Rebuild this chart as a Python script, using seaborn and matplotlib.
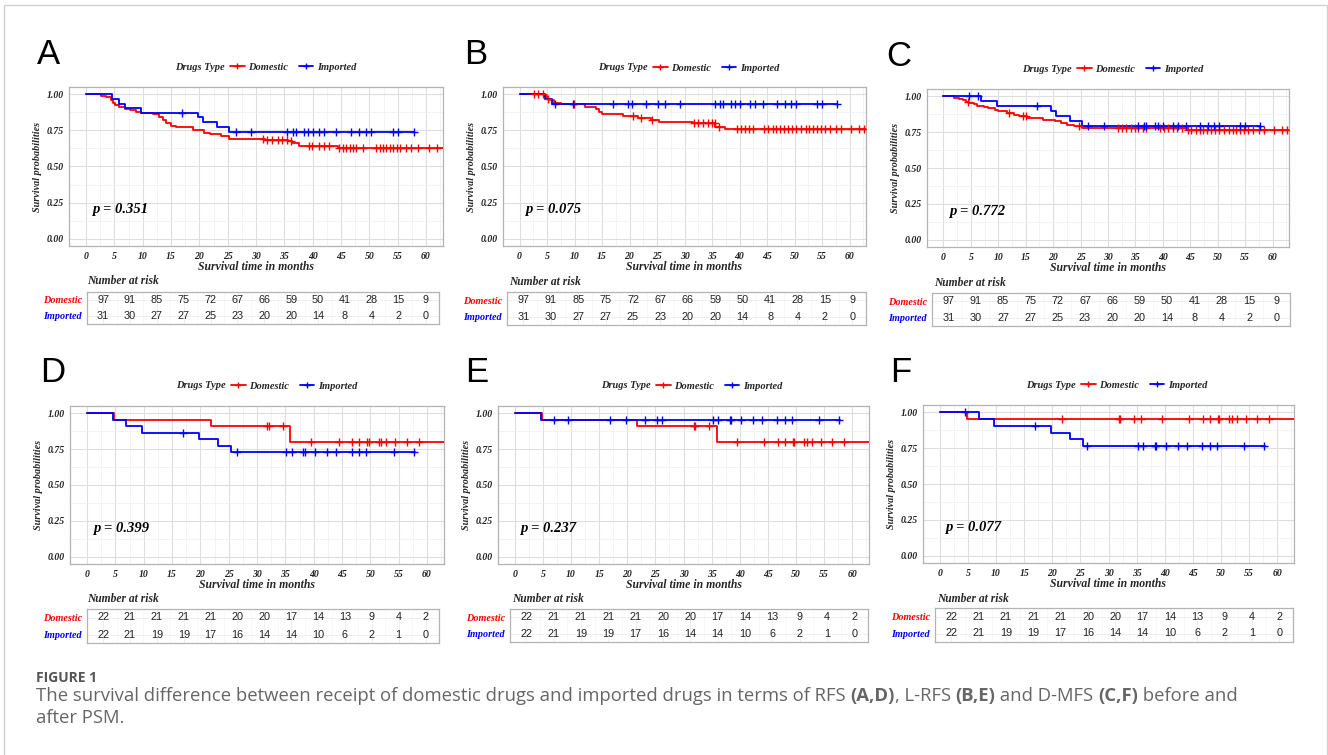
import numpy as np
import pandas as pd
import matplotlib
matplotlib.use('Agg')
import matplotlib.pyplot as plt
import seaborn as sns
from matplotlib.font_manager import FontProperties
from matplotlib.lines import Line2D
from matplotlib.patches import Rectangle

# ---------------- data ----------------
groups = ['Domestic', 'Imported']
risk_times = list(range(0, 61, 5))
y_breaks = [0.0, 0.25, 0.50, 0.75, 1.00]

# Panel A (RFS, before PSM)
A_dom_t = [0, 2.7, 3.5, 4.4, 4.8, 5.2, 5.9, 6.8, 7.8, 8.8, 9.7, 11.8, 12.9, 13.5, 14.1, 15.0, 15.9,
           18.8, 20.3, 20.9, 21.8, 23.8, 25.3, 31.5, 35.6, 36.3, 37.5, 44.4]
A_dom_s = [1.0, 0.99, 0.98, 0.96, 0.94, 0.925, 0.91, 0.90, 0.89, 0.88, 0.87, 0.86, 0.84, 0.82, 0.80,
           0.78, 0.77, 0.755, 0.75, 0.735, 0.725, 0.71, 0.69, 0.685, 0.675, 0.66, 0.645, 0.63]
A_dom_c = [31.2, 32.0, 32.9, 33.8, 34.6, 35.4, 36.2, 39.4, 39.9, 41.2, 42.0, 42.8, 44.7, 45.3, 45.9,
           46.5, 47.1, 47.7, 48.8, 51.2, 51.8, 52.4, 53.0, 53.6, 54.2, 54.8, 55.4, 56.5, 57.4, 58.5,
           60.6, 62.0]
A_imp_t = [0, 4.6, 5.9, 6.8, 9.7, 19.7, 20.6, 23.1, 25.2]
A_imp_s = [1.0, 0.968, 0.935, 0.903, 0.871, 0.839, 0.806, 0.774, 0.742]
A_imp_c = [17.0, 26.4, 29.2, 35.5, 36.5, 37.0, 38.5, 39.2, 40.0, 41.2, 42.0, 44.2, 46.8, 48.2, 49.4,
           50.3, 54.1, 55.0, 57.8]

# Panel B (L-RFS, before PSM)
B_dom_t = [0, 4.5, 5.0, 5.6, 6.2, 7.5, 11.9, 13.9, 14.5, 15.0, 18.9, 21.5, 23.9, 25.4, 31.5, 35.6, 37.4]
B_dom_s = [1.0, 0.985, 0.97, 0.96, 0.94, 0.93, 0.915, 0.90, 0.88, 0.865, 0.85, 0.835, 0.82, 0.81,
           0.80, 0.775, 0.76]
B_dom_c = [2.7, 3.4, 4.2, 5.2, 9.9, 20.6, 22.0, 24.0, 31.8, 32.5, 33.3, 34.2, 35.0, 35.5, 36.3, 39.5,
           40.2, 41.0, 41.8, 42.5, 44.5, 45.2, 46.0, 46.7, 47.3, 48.0, 48.8, 49.5, 50.3, 51.2, 52.0,
           52.7, 53.3, 54.0, 54.8, 55.5, 56.5, 57.5, 58.5, 60.3, 61.8, 62.6]
B_imp_t = [0, 4.6, 5.9]
B_imp_s = [1.0, 0.968, 0.935]
B_imp_c = [6.4, 9.8, 17.0, 19.8, 20.5, 23.0, 25.2, 26.4, 29.2, 35.5, 36.5, 37.0, 38.5, 39.2, 40.0,
           41.9, 42.8, 44.2, 46.8, 48.2, 49.4, 50.3, 54.1, 55.0, 57.8]

# Panel C (D-MFS, before PSM)
C_dom_t = [0, 2.0, 2.9, 3.6, 4.2, 4.7, 5.5, 6.2, 7.4, 8.2, 9.4, 10.0, 11.5, 12.9, 13.8, 15.3, 18.2,
           20.3, 21.5, 22.6, 23.8, 25.3, 44.4]
C_dom_s = [1.0, 0.99, 0.98, 0.97, 0.96, 0.95, 0.945, 0.935, 0.925, 0.915, 0.905, 0.895, 0.885, 0.87,
           0.86, 0.845, 0.835, 0.825, 0.81, 0.80, 0.79, 0.78, 0.765]
C_dom_c = [4.5, 12.0, 14.5, 15.0, 24.8, 31.8, 32.5, 33.3, 34.2, 35.0, 35.5, 36.3, 37.0, 39.5, 40.2,
           41.0, 41.8, 42.5, 43.5, 44.5, 45.2, 46.0, 46.7, 47.3, 48.0, 48.8, 49.5, 50.3, 51.2, 52.0,
           52.7, 53.3, 54.0, 54.8, 55.5, 56.5, 57.5, 58.5, 60.3, 61.8, 62.6]
C_imp_t = [0, 6.9, 9.7, 19.6, 20.6, 23.0, 25.3]
C_imp_s = [1.0, 0.967, 0.933, 0.897, 0.861, 0.826, 0.79]
C_imp_c = [4.6, 6.3, 17.0, 26.4, 29.2, 35.5, 36.5, 37.0, 38.5, 39.2, 40.0, 41.9, 42.8, 44.2, 46.8,
           48.2, 49.4, 50.3, 54.1, 55.0, 57.8]

# Panel D (RFS, after PSM)
D_dom_t = [0, 4.8, 21.8, 35.9]
D_dom_s = [1.0, 0.955, 0.909, 0.80]
D_dom_c = [31.8, 32.1, 34.6, 39.5, 44.4, 46.8, 48.0, 49.4, 49.7, 51.5, 51.9, 52.8, 54.4, 56.4, 58.5]
D_imp_t = [0, 4.6, 6.9, 9.7, 19.8, 23.1, 25.4]
D_imp_s = [1.0, 0.955, 0.909, 0.864, 0.818, 0.773, 0.727]
D_imp_c = [17.0, 26.4, 35.2, 36.2, 38.2, 38.5, 40.2, 42.3, 44.0, 46.7, 48.0, 49.3, 54.1, 57.7]

# Panel E (L-RFS, after PSM)
E_dom_t = [0, 4.8, 21.8, 35.9]
E_dom_s = [1.0, 0.955, 0.909, 0.80]
E_dom_c = [31.8, 32.1, 34.6, 39.5, 44.4, 46.8, 48.0, 49.4, 49.7, 51.5, 51.9, 52.8, 54.4, 56.4, 58.5]
E_imp_t = [0, 4.6]
E_imp_s = [1.0, 0.955]
E_imp_c = [6.9, 9.5, 17.0, 19.7, 23.1, 25.2, 26.2, 35.2, 36.2, 38.2, 38.5, 40.2, 42.3, 44.0, 46.7,
           48.0, 49.3, 54.1, 57.7]

# Panel F (D-MFS, after PSM)
F_dom_t = [0, 4.8]
F_dom_s = [1.0, 0.955]
F_dom_c = [21.7, 31.8, 32.1, 34.6, 35.8, 39.5, 44.4, 46.8, 48.0, 49.4, 49.7, 51.5, 51.9, 52.8, 54.4,
           56.4, 58.5]
F_imp_t = [0, 6.9, 9.7, 19.8, 23.1, 25.4]
F_imp_s = [1.0, 0.952, 0.905, 0.857, 0.81, 0.762]
F_imp_c = [4.5, 17.0, 26.2, 35.2, 36.2, 38.2, 38.5, 40.2, 42.3, 44.0, 46.7, 48.0, 49.3, 54.1, 57.7]

dom_end_time = 65.0      # domestic follow-up runs past the axis limit
imp_end_time = 57.8

p_values = {'A': 'p = 0.351', 'B': 'p = 0.075', 'C': 'p = 0.772',
            'D': 'p = 0.399', 'E': 'p = 0.237', 'F': 'p = 0.077'}

risk_dom_before = [97, 91, 85, 75, 72, 67, 66, 59, 50, 41, 28, 15, 9]
risk_imp_before = [31, 30, 27, 27, 25, 23, 20, 20, 14, 8, 4, 2, 0]
risk_dom_after = [22, 21, 21, 21, 21, 20, 20, 17, 14, 13, 9, 4, 2]
risk_imp_after = [22, 21, 19, 19, 17, 16, 14, 14, 10, 6, 2, 1, 0]

caption_label = 'FIGURE 1'
caption_line1 = [('The survival difference between receipt of domestic drugs and imported drugs in terms of RFS ', 'normal'),
                 ('(A,D)', 'bold'), (', L-RFS ', 'normal'), ('(B,E)', 'bold'),
                 (' and D-MFS ', 'normal'), ('(C,F)', 'bold'), (' before and', 'normal')]
caption_line2 = 'after PSM.'

panels = {
    'A': (A_dom_t, A_dom_s, A_dom_c, A_imp_t, A_imp_s, A_imp_c, risk_dom_before, risk_imp_before),
    'B': (B_dom_t, B_dom_s, B_dom_c, B_imp_t, B_imp_s, B_imp_c, risk_dom_before, risk_imp_before),
    'C': (C_dom_t, C_dom_s, C_dom_c, C_imp_t, C_imp_s, C_imp_c, risk_dom_before, risk_imp_before),
    'D': (D_dom_t, D_dom_s, D_dom_c, D_imp_t, D_imp_s, D_imp_c, risk_dom_after, risk_imp_after),
    'E': (E_dom_t, E_dom_s, E_dom_c, E_imp_t, E_imp_s, E_imp_c, risk_dom_after, risk_imp_after),
    'F': (F_dom_t, F_dom_s, F_dom_c, F_imp_t, F_imp_s, F_imp_c, risk_dom_after, risk_imp_after),
}

# ---------------- layout (pixels) ----------------
layout = {
    'A': dict(ax=(69, 87, 443, 246), tab=(87, 292, 439, 324), letter=(37, 55), leg=(263, 67), nar=(87, 281)),
    'B': dict(ax=(503, 87, 866, 246), tab=(507, 292, 866, 325), letter=(464, 55), leg=(686, 68), nar=(509, 282)),
    'C': dict(ax=(927, 89, 1289, 247), tab=(932, 293, 1290, 326), letter=(886, 56), leg=(1110, 69), nar=(934, 283)),
    'D': dict(ax=(70, 406, 444, 564), tab=(87, 609, 439, 643), letter=(40, 373), leg=(264, 386), nar=(87, 599)),
    'E': dict(ax=(498, 406, 869, 564), tab=(510, 609, 868, 642), letter=(465, 373), leg=(689, 386), nar=(512, 599)),
    'F': dict(ax=(923, 405, 1294, 563), tab=(935, 608, 1293, 642), letter=(890, 373), leg=(1114, 385), nar=(937, 599)),
}

W, H = 1328, 755
sns.set_style('white')
fig = plt.figure(figsize=(W / 100, H / 100), dpi=100)


def fx(x):
    return x / W


def fy(y):
    return 1 - y / H


def rect(l, t, r, b):
    return [fx(l), fy(b), (r - l) / W, (b - t) / H]


SERIF = 'Liberation Serif'


def fpb(size):
    return FontProperties(family=SERIF, weight='bold', style='italic', size=size)


RED = '#FF0000'
BLUE = '#0000FF'
colors = {'Domestic': RED, 'Imported': BLUE}
BORDER = '#B3B3B3'
GRID_MAJ = '#DEDEDE'
GRID_MIN = '#EFEFEF'


def km(ax, t, s, end, cens, color):
    tt = np.asarray(list(t) + [end], dtype=float)
    ss = np.asarray(list(s) + [s[-1]], dtype=float)
    df = pd.DataFrame({'time': tt, 'surv': ss})
    sns.lineplot(data=df, x='time', y='surv', drawstyle='steps-post', color=color, lw=1.3,
                 ax=ax, estimator=None, sort=False, zorder=3)
    c = np.asarray(cens, dtype=float)
    idx = np.searchsorted(tt, c, side='right') - 1
    sns.scatterplot(x=c, y=ss[idx], marker='+', s=28, color=color, linewidth=1.0, ax=ax, zorder=4)


for key, (dt, ds, dc, it, isv, ic, rd, ri) in panels.items():
    L = layout[key]
    ax = fig.add_axes(rect(*L['ax']))
    km(ax, dt, ds, dom_end_time, dc, RED)
    km(ax, it, isv, imp_end_time, ic, BLUE)
    ax.set_xlim(-3, 63)
    ax.set_ylim(-0.05, 1.05)
    ax.set_xticks(risk_times)
    ax.set_xticklabels([str(v) for v in risk_times], fontproperties=fpb(7))
    ax.set_yticks(y_breaks)
    ax.set_yticklabels(['%.2f' % v for v in y_breaks], fontproperties=fpb(7))
    ax.set_xticks([v + 2.5 for v in risk_times], minor=True)
    ax.set_yticks([0.125, 0.375, 0.625, 0.875], minor=True)
    ax.grid(which='major', color=GRID_MAJ, lw=0.8)
    ax.grid(which='minor', color=GRID_MIN, lw=0.5)
    ax.set_axisbelow(True)
    ax.tick_params(which='major', length=2.5, width=0.6, color='#555555', pad=1.5, labelcolor='#222222')
    ax.tick_params(which='minor', length=0)
    for sp in ax.spines.values():
        sp.set_color(BORDER)
        sp.set_linewidth(0.9)
    ax.set_xlabel('Survival time in months', fontproperties=fpb(8.5), labelpad=0)
    ax.set_ylabel('Survival probabilities', fontproperties=fpb(7.3), labelpad=3)
    ax.text(1.0, 0.2, p_values[key], fontproperties=fpb(10.5), ha='left', va='center', color='black')

    # panel letter
    fig.text(fx(L['letter'][0]), fy(L['letter'][1]), key, fontsize=25, family='Liberation Sans',
             ha='left', va='center', color='black')

    # legend
    lcx, lcy = L['leg']
    fig.text(fx(lcx - 38), fy(lcy), 'Drugs Type', fontproperties=fpb(7.5), ha='right', va='center')
    handles = [Line2D([], [], color=colors[g], lw=1.3, marker='+', markersize=5, markeredgewidth=1.0)
               for g in groups]
    fig.legend(handles, groups, loc='center left', bbox_to_anchor=(fx(lcx - 33), fy(lcy)),
               bbox_transform=fig.transFigure, ncol=2, frameon=False, prop=fpb(7.5),
               handlelength=1.4, handletextpad=0.35, columnspacing=1.0, borderpad=0, borderaxespad=0)

    # risk table
    tax = fig.add_axes(rect(*L['tab']))
    tax.set_xlim(-3, 62.3)
    tax.set_ylim(0.5, 2.5)
    rows = {'Domestic': (2, rd), 'Imported': (1, ri)}
    for g, (yrow, vals) in rows.items():
        for tm, v in zip(risk_times, vals):
            tax.text(tm, yrow, str(v), ha='center', va='center', fontsize=7.8,
                     family='Liberation Sans', color='#222222')
    tax.set_xticks(risk_times)
    tax.set_xticks([v + 2.5 for v in risk_times], minor=True)
    tax.set_yticks([2, 1])
    tax.set_yticklabels(groups, fontproperties=fpb(7.3))
    for lbl, g in zip(tax.get_yticklabels(), groups):
        lbl.set_color(colors[g])
    tax.set_xticklabels([])
    tax.tick_params(axis='x', which='both', length=0)
    tax.tick_params(axis='y', length=2, width=0.6, color='#777777', pad=1.5)
    tax.grid(which='major', color='#EDEDED', lw=0.6)
    tax.grid(which='minor', color='#F4F4F4', lw=0.4)
    tax.set_axisbelow(True)
    for sp in tax.spines.values():
        sp.set_color(BORDER)
        sp.set_linewidth(0.9)
    fig.text(fx(L['nar'][0]), fy(L['nar'][1]), 'Number at risk', fontproperties=fpb(8.3),
             ha='left', va='center')

# outer frame
fig.patches.append(Rectangle((fx(4), fy(762)), fx(1327) - fx(4), fy(5) - fy(762),
                             transform=fig.transFigure, fill=False, edgecolor='#D0D0D0', lw=1.0))

# caption
CAP = 'Open Sans'
CAPCOL = '#666666'
fig.text(fx(36), fy(678), caption_label, family=CAP, weight='bold', fontsize=10, color='#555555',
         ha='left', va='center')
renderer = fig.canvas.get_renderer()
x = fx(36)
for txt, wt in caption_line1:
    t = fig.text(x, fy(696), txt, family=CAP, weight=wt, fontsize=13.3, color=CAPCOL, ha='left', va='center')
    bb = t.get_window_extent(renderer=renderer)
    x += bb.width / W
fig.text(fx(36), fy(718), caption_line2, family=CAP, fontsize=13.3, color=CAPCOL, ha='left', va='center')

fig.savefig('out.png', dpi=100)
